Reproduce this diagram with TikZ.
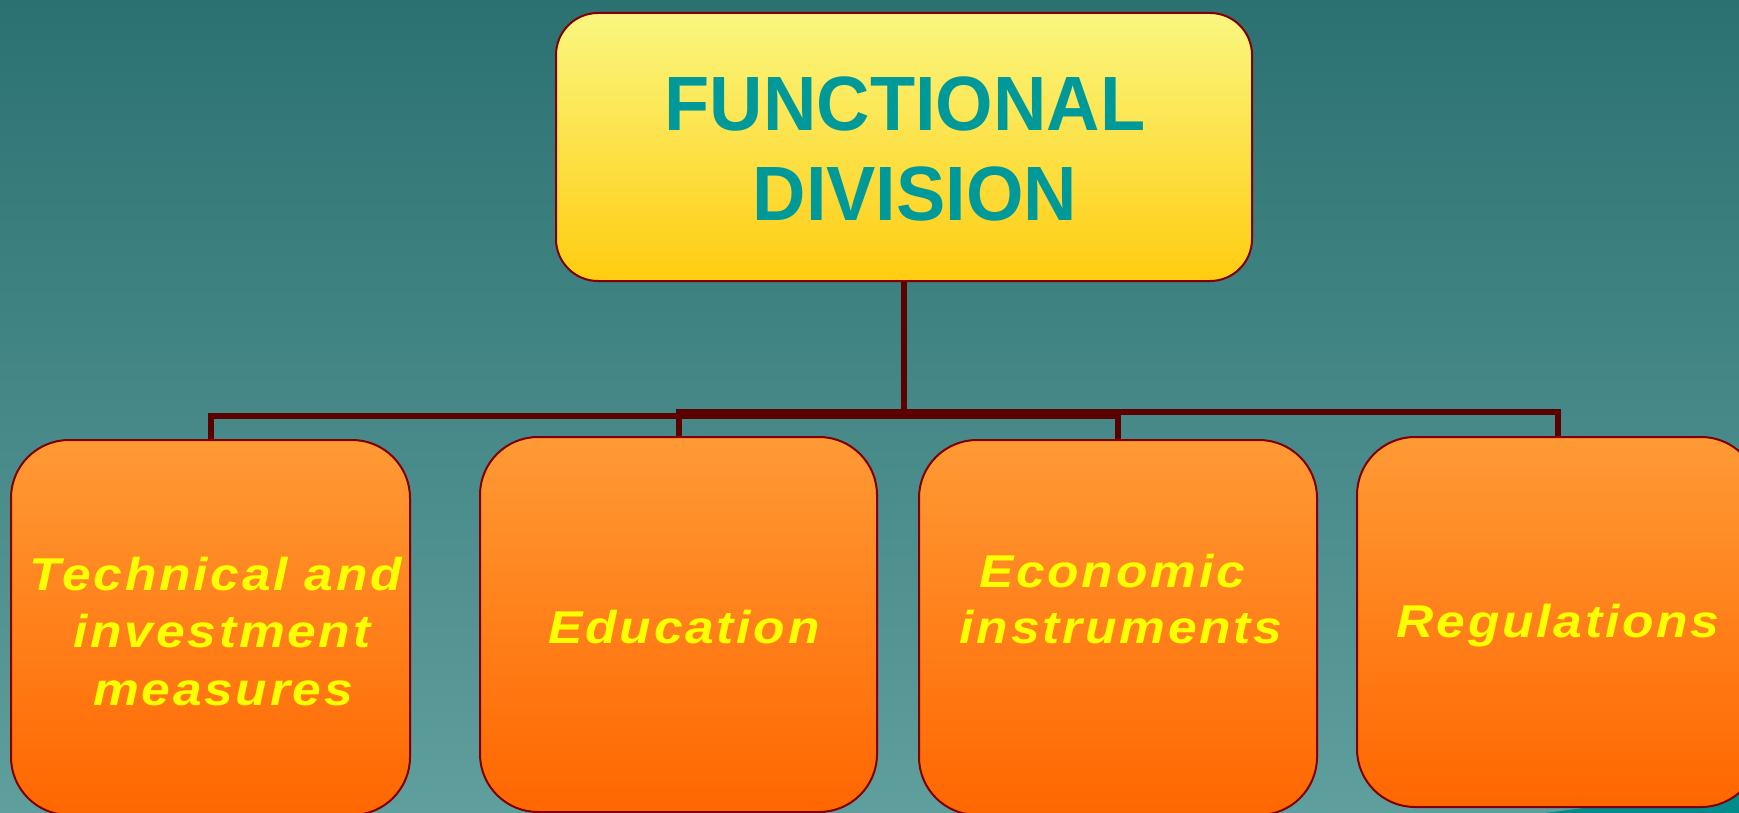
\documentclass[tikz,border=0pt]{standalone}
\usepackage{fontspec}
\setmainfont{Liberation Sans}
\newfontfamily\titlefont[FakeStretch=0.96]{Liberation Sans}
\newfontfamily\boxfont[LetterSpace=6,FakeStretch=1.12]{Liberation Sans}
\definecolor{bgtop}{HTML}{2C7172}
\definecolor{bgbot}{HTML}{5F9F9D}
\definecolor{bgdark}{HTML}{008C8B}
\definecolor{lineclr}{HTML}{5A0000}
\definecolor{edgeclr}{HTML}{800000}
\definecolor{titleclr}{HTML}{009999}
\definecolor{ytop}{HTML}{FAF780}
\definecolor{ybot}{HTML}{FFCC10}
\definecolor{otop}{HTML}{FF9A35}
\definecolor{obot}{HTML}{FF6600}
\definecolor{txtyellow}{HTML}{FFFF00}
\tikzset{
  headbox/.style={rectangle, draw=edgeclr, line width=2pt, rounded corners=42pt,
    top color=ytop, bottom color=ybot, inner sep=0pt},
  childbox/.style={rectangle, draw=edgeclr, line width=2pt, rounded corners=58pt,
    top color=otop, bottom color=obot, inner sep=0pt},
  conn/.style={draw=lineclr, line width=6pt, line join=miter},
  titletext/.style={anchor=base, inner sep=0pt, text=titleclr,
    font=\titlefont\fontsize{77}{89}\selectfont\bfseries},
  childtext/.style={anchor=base, inner sep=0pt, text=txtyellow,
    font=\boxfont\fontsize{46}{57}\selectfont\bfseries\itshape},
}
\begin{document}
\begin{tikzpicture}[x=1pt,y=-1pt]
\useasboundingbox (0,0) rectangle (1739,813);
\shade[top color=bgtop, bottom color=bgbot] (0,0) rectangle (1739,813);
\fill[bgdark] (1545,813) -- (1739,788) -- (1739,813) -- cycle;

% boxes
\node[headbox, minimum width=696pt, minimum height=268pt] (head) at (904,147) {};
\node[childbox, minimum width=399pt, minimum height=375pt] (c1) at (210.5,627.5) {};
\node[childbox, minimum width=397pt, minimum height=375pt] (c2) at (678.5,624.5) {};
\node[childbox, minimum width=398pt, minimum height=375pt] (c3) at (1118,627.5) {};
\node[childbox, minimum width=402pt, minimum height=370pt] (c4) at (1558,622) {};

% connectors
\coordinate (m1) at (904,416);
\coordinate (m2) at (904,412);
\draw[conn] (head.south) -- (m1) -| (c1.north);
\draw[conn] (head.south) -- (m2) -| (c2.north);
\draw[conn] (head.south) -- (m1) -| (c3.north);
\draw[conn] (head.south) -- (m2) -| (c4.north);

% title text
\node[titletext] (h1) at (905,131) {FUNCTIONAL};
\node[titletext] (h2) at (915,220) {DIVISION};

% child texts
\node[childtext] (t1a) at (216,590) {Technical and};
\node[childtext] (t1b) at (222,647) {investment};
\node[childtext] (t1c) at (223,705) {measures};
\node[childtext] (t2) at (684,643) {Education};
\node[childtext] (t3a) at (1112,587) {Economic};
\node[childtext] (t3b) at (1121,643) {instruments};
\node[childtext] (t4) at (1558,637) {Regulations};
\end{tikzpicture}
\end{document}
